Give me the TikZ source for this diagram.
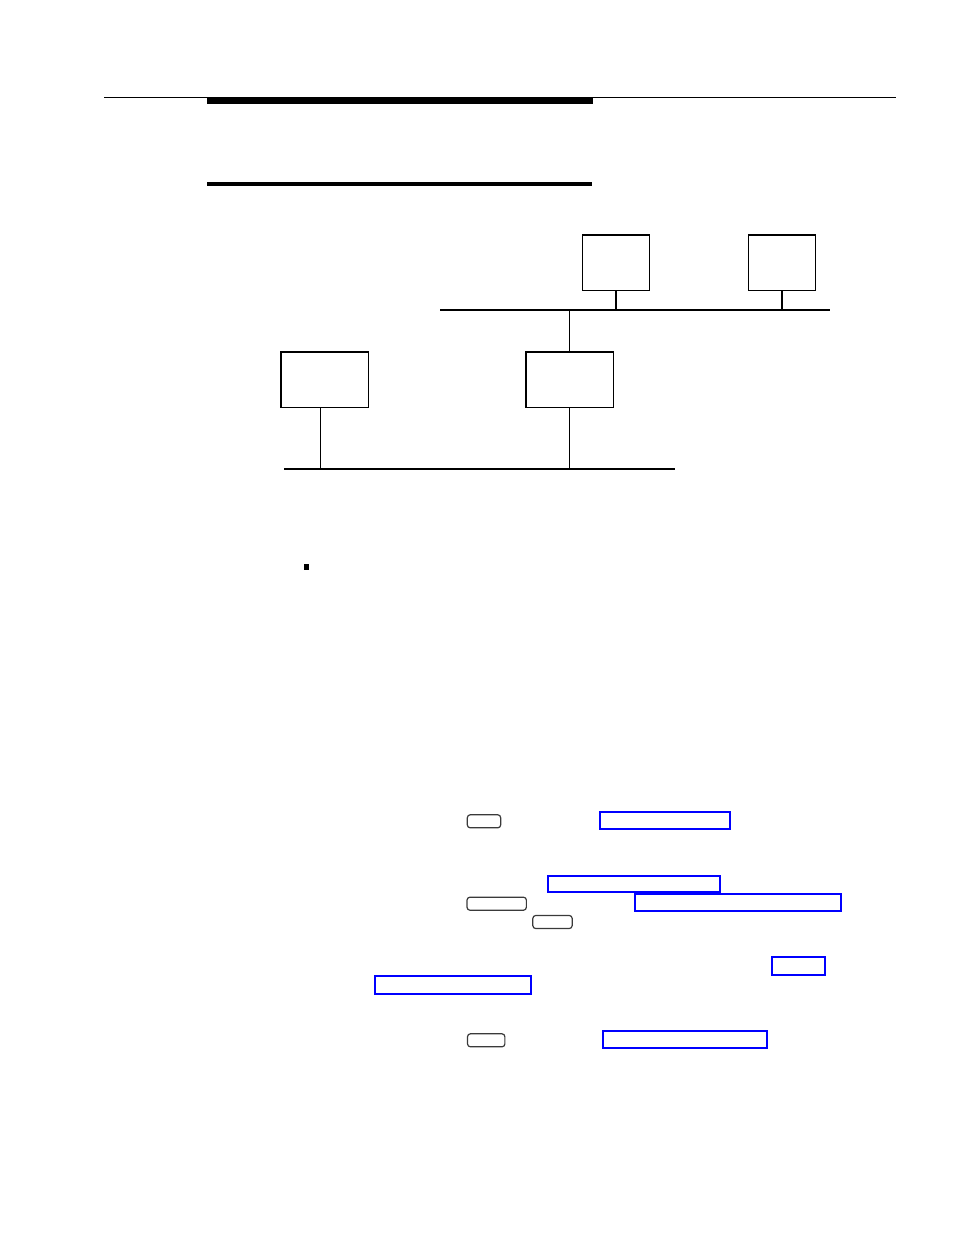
\documentclass[tikz,border=0pt]{standalone}
\usepackage{tikz}
\usetikzlibrary{positioning, calc}
\usepackage{xcolor}
\definecolor{keygray}{HTML}{3A3A3A}
\definecolor{linkblue}{HTML}{0000FF}

\begin{document}
\begin{tikzpicture}[x=0.75pt, y=-0.75pt,
  netbox/.style={rectangle, draw=black, line width=1pt, inner sep=0pt, outer sep=0pt},
  wire/.style={line width=1pt},
  keycap/.style={rectangle, rounded corners=2.2pt, draw=keygray, line width=0.9pt,
                 minimum height=9.8pt, inner sep=0pt, outer sep=0pt},
  xref/.style={rectangle, draw=linkblue, line width=1.5pt, inner sep=0pt, outer sep=0pt}]
\useasboundingbox (0,0) rectangle (954,1235);

% page rules
\draw[line width=1.1pt] (104,97.5) -- (896,97.5);
\fill (207,97) rectangle (593,104);
\fill (207,182) rectangle (592,185.5);

% network boxes
\node[netbox, minimum width=49.8pt, minimum height=41.5pt] (hostA) at (616,262.7) {};
\node[netbox, minimum width=49.8pt, minimum height=41.5pt] (hostB) at (782,262.7) {};
\node[netbox, minimum width=65.5pt, minimum height=41.5pt] (router) at (569.6,379.8) {};
\node[netbox, minimum width=65.5pt, minimum height=41.5pt] (hostC) at (324.8,379.8) {};

\coordinate (lanW) at (440,310);
\coordinate (lanE) at (830,310);
\coordinate (segW) at (284,469);
\coordinate (segE) at (675,469);
\coordinate (tapC) at (320.3,469);

\draw[wire] (lanW) -- (lanE);
\draw[wire] (segW) -- (segE);
\draw[wire] (hostA.south) -- (hostA.south |- lanW);
\draw[wire] (hostB.south) -- (hostB.south |- lanW);
\draw[wire] (router.north) -- (router.north |- lanW);
\draw[wire] (router.south) -- (router.south |- segW);
\draw[wire] (tapC |- hostC.south) -- (tapC);

% bullet
\fill (304,564) rectangle (309,570);

% keys
\node[keycap, minimum width=25pt] (keyOne) at (484,821.3) {};
\node[keycap, minimum width=44.5pt] (keyTwo) at (496.7,903.7) {};
\node[keycap, minimum width=29.5pt] (keyThree) at (552.5,922) {};
\node[keycap, minimum width=28pt] (keyFour) at (486.2,1040.3) {};

% cross references
\node[xref, minimum width=97.5pt, minimum height=12.7pt] (refOne) at (665.3,820.5) {};
\node[xref, minimum width=129pt, minimum height=11.9pt] (refTwo) at (633.5,884.3) {};
\node[xref, minimum width=154.5pt, minimum height=13pt] (refThree) at (738.3,902.3) {};
\node[xref, minimum width=39.5pt, minimum height=13.4pt] (refFour) at (798.8,966.2) {};
\node[xref, minimum width=117pt, minimum height=13.4pt] (refFive) at (452.5,985) {};
\node[xref, minimum width=122.5pt, minimum height=13.4pt] (refSix) at (685,1039.5) {};
\end{tikzpicture}
\end{document}
